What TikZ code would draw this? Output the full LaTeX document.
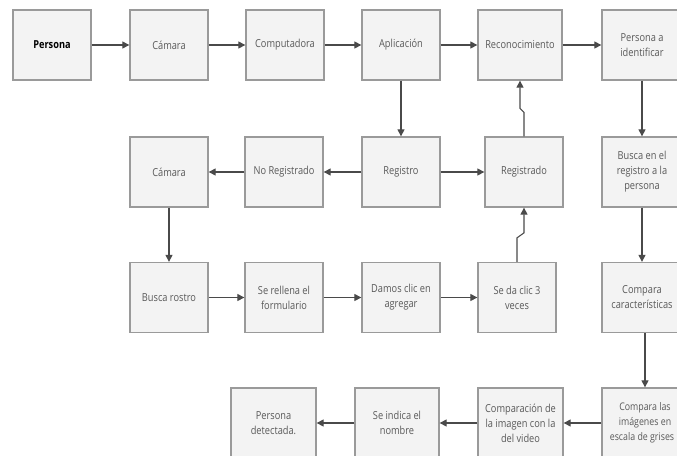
\documentclass[tikz,border=0pt]{standalone}
\usepackage{fontspec}
\setmainfont{Open Sans}[FakeStretch=0.84]
\usepackage{tikz}
\usetikzlibrary{arrows.meta}

\definecolor{borde}{HTML}{9A9A9A}
\definecolor{fondo}{HTML}{F3F3F3}
\definecolor{texto}{HTML}{595959}
\definecolor{linea}{HTML}{4A4A4A}

\tikzset{
  caja/.style={draw=borde, fill=fondo, line width=1.3pt, minimum width=78pt, minimum height=70pt,
    align=center, inner sep=1pt, text=texto, font=\fontsize{11}{15}\selectfont},
  flecha/.style={draw=linea, line width=1.1pt, -{Triangle[length=7pt,width=7pt]}}
}

\begin{document}
\begin{tikzpicture}[x=1pt,y=-1pt]
    \useasboundingbox (0,0) rectangle (677,455);
    \clip (0,0) rectangle (677,455);

    % Primera fila
    \node[caja, text=black, font=\fontsize{11}{15}\selectfont\bfseries] (persona) at (52,45) {Persona};
    \node[caja] (camara) at (169,45) {Cámara};
    \node[caja] (compu) at (285,45) {Computadora};
    \node[caja] (aplicacion) at (401,45) {Aplicación};
    \node[caja, minimum width=84pt] (reconoc) at (520,45) {Reconocimiento};
    \node[caja, minimum width=80pt] (identificar) at (642,45) {Persona a\\identificar};

    % Segunda fila
    \node[caja] (camarados) at (169,172) {Cámara};
    \node[caja] (noregistrado) at (284,172) {No Registrado};
    \node[caja] (registro) at (401,172) {Registro};
    \node[caja] (registrado) at (524,172) {Registrado};
    \node[caja, minimum width=80pt] (buscareg) at (642,172) {Busca en el\\registro a la\\persona};

    % Tercera fila
    \node[caja] (rostro) at (169,297.5) {Busca rostro};
    \node[caja] (rellena) at (284,297.5) {Se rellena el\\formulario};
    \node[caja] (agregar) at (401,297.5) {Damos clic en\\agregar};
    \node[caja] (tresveces) at (517,297.5) {Se da clic 3\\veces};
    \node[caja, minimum width=80pt] (caracteristicas) at (642,297.5) {Compara\\características};

    % Cuarta fila
    \node[caja, minimum width=85pt] (detectada) at (273.5,423) {Persona\\detectada.};
    \node[caja, minimum width=84pt] (nombre) at (397,423) {Se indica el\\nombre};
    \node[caja, minimum width=85pt] (comparacion) at (520.5,423) {Comparación de\\la imagen con la\\del video};
    \node[caja, minimum width=86pt, font=\fontsize{10.5}{15}\selectfont] (imagenes) at (645,423) {Compara las\\imágenes en\\escala de grises\hspace*{6pt}};

    % Flechas de la primera fila
    \draw[flecha] (persona) -- (camara);
    \draw[flecha] (camara) -- (compu);
    \draw[flecha] (compu) -- (aplicacion);
    \draw[flecha] (aplicacion) -- (reconoc);
    \draw[flecha] (reconoc) -- (identificar);

    % Flechas de la segunda fila
    \draw[flecha] (aplicacion) -- (registro);
    \draw[flecha] (registro) -- (noregistrado);
    \draw[flecha] (noregistrado) -- (camarados);
    \draw[flecha] (registro) -- (registrado);
    \draw[flecha] (registrado.north) -- ++(0,-24) -- ++(-4,-4) -- (reconoc.south);
    \draw[flecha] (identificar) -- (buscareg);

    % Flechas de la tercera fila
    \draw[flecha] (camarados) -- (rostro);
    \draw[flecha] (rostro) -- (rellena);
    \draw[flecha] (rellena) -- (agregar);
    \draw[flecha] (agregar) -- (tresveces);
    \draw[flecha] (tresveces.north) -- ++(0,-24) -- ++(7,-5) -- (registrado.south);
    \draw[flecha] (buscareg) -- (caracteristicas);

    % Flechas de la cuarta fila
    \draw[flecha] (caracteristicas.south -| imagenes.north) -- (imagenes.north);
    \draw[flecha] (imagenes) -- (comparacion);
    \draw[flecha] (comparacion) -- (nombre);
    \draw[flecha] (nombre) -- (detectada);
\end{tikzpicture}
\end{document}
